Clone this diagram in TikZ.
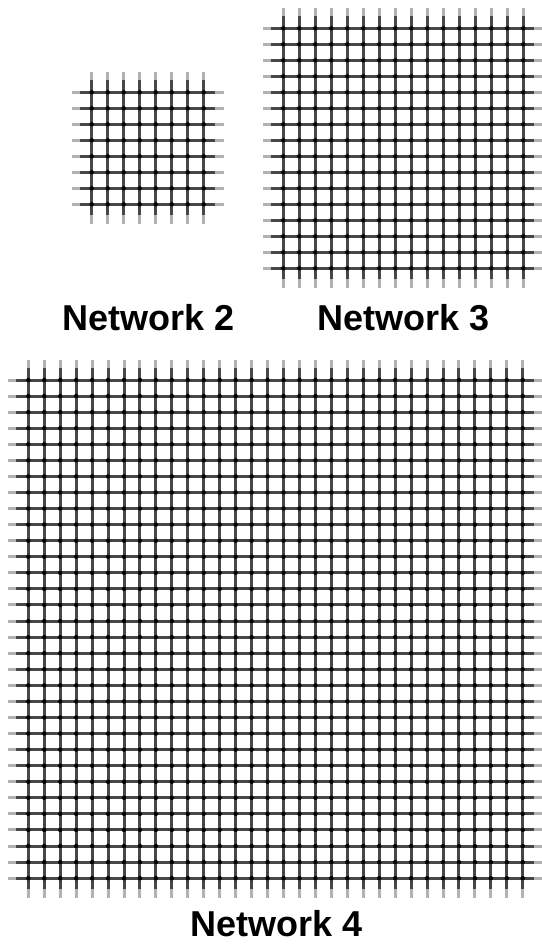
\documentclass[tikz,border=0pt]{standalone}
\usepackage{fontspec}
\setmainfont{Liberation Sans}
\tikzset{
  gridline/.style={line width=3pt, draw=black!72},
  gridtip/.style={line width=3pt, draw=black!30},
  gridnode/.style={fill=black},
  netlabel/.style={font=\bfseries\fontsize{36}{40}\selectfont, inner sep=0pt, text=black}
}
% #1 x0, #2 y0, #3 n, #4 dx, #5 dy
\newcommand\drawnet[5]{%
  \pgfmathsetmacro\xlast{#1+(#3-1)*#4}%
  \pgfmathsetmacro\ylast{#2+(#3-1)*#5}%
  \foreach \i in {1,...,#3}{%
    \pgfmathsetmacro\xx{#1+(\i-1)*#4}%
    \pgfmathsetmacro\yy{#2+(\i-1)*#5}%
    \draw[gridtip] (\xx,#2-20) -- (\xx,#2-11);
    \draw[gridline] (\xx,#2-12) -- (\xx,\ylast+12);
    \draw[gridtip] (\xx,\ylast+11) -- (\xx,\ylast+20);
    \draw[gridtip] (#1-20,\yy) -- (#1-11,\yy);
    \draw[gridline] (#1-12,\yy) -- (\xlast+12,\yy);
    \draw[gridtip] (\xlast+11,\yy) -- (\xlast+20,\yy);
  }%
  \foreach \i in {1,...,#3}{%
    \foreach \j in {1,...,#3}{%
      \pgfmathsetmacro\xx{#1+(\i-1)*#4}%
      \pgfmathsetmacro\yy{#2+(\j-1)*#5}%
      \fill[gridnode] (\xx,\yy) circle[radius=2.2pt];
    }%
  }%
}
\begin{document}
\begin{tikzpicture}[x=1pt,y=-1pt]
  \useasboundingbox (0,0) rectangle (541,944);
  \drawnet{91.7}{92.3}{8}{16}{16}
  \drawnet{283.3}{28.3}{16}{16}{16}
  \drawnet{28.3}{380}{32}{15.95}{16.07}
  \node[netlabel] (n2) at (149,317.5) {Network 2};
  \node[netlabel] (n3) at (403.5,317.5) {Network 3};
  \node[netlabel] (n4) at (277,924) {Network 4};
\end{tikzpicture}
\end{document}
